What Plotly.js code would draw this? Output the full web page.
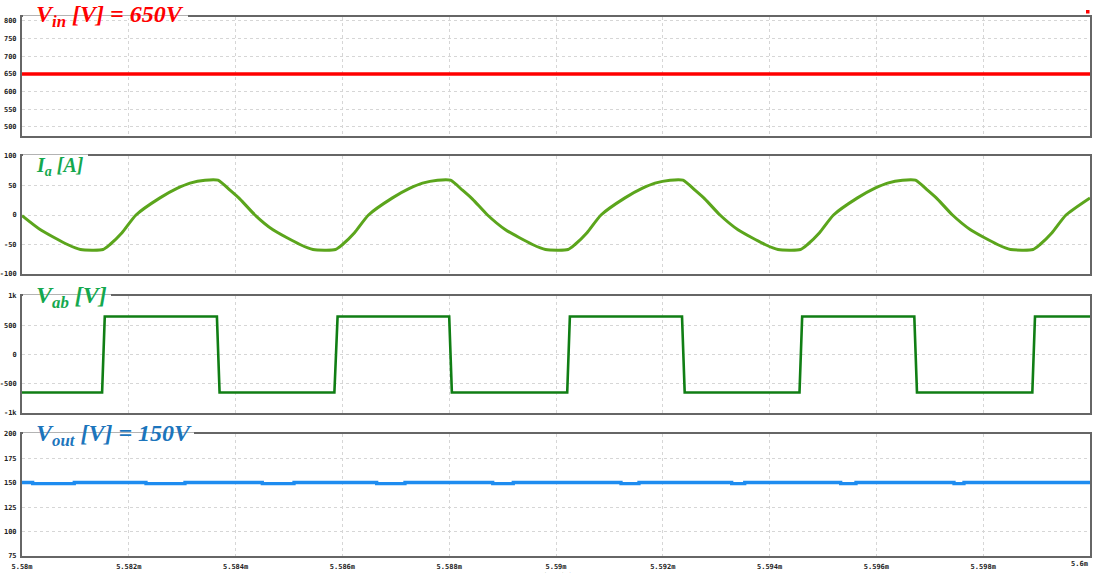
<!DOCTYPE html>
<html>
<head>
<meta charset="utf-8">
<script src="https://cdn.plot.ly/plotly-3.0.1.min.js"></script>
<style>html,body{margin:0;padding:0;background:#fff;}#chart{width:1093px;height:573px;}</style>
</head>
<body>
<div id="chart"></div>
<script>
// Time in microseconds (absolute)
const xTickVals = [5580, 5582, 5584, 5586, 5588, 5590, 5592, 5594, 5596, 5598, 5600];
const xTickText = ['5.58m', '5.582m', '5.584m', '5.586m', '5.588m', '5.59m', '5.592m', '5.594m', '5.596m', '5.598m', ''];
const lastTickText = '5.6m';

// Vin [V]
const vinT = [5580, 5600];
const vinV = [650, 650];

// Ia [A]
const iaT = [5580.000, 5580.346, 5580.852, 5581.095,
  5581.517, 5581.648, 5581.873, 5582.135, 5582.584, 5582.903, 5583.146, 5583.427, 5583.670, 5583.895, 5584.082, 5584.363, 5584.700, 5585.206, 5585.449,
  5585.871, 5586.002, 5586.227, 5586.489, 5586.938, 5587.257, 5587.500, 5587.781, 5588.024, 5588.249, 5588.436, 5588.717, 5589.054, 5589.560, 5589.803,
  5590.225, 5590.356, 5590.581, 5590.843, 5591.292, 5591.611, 5591.854, 5592.135, 5592.378, 5592.603, 5592.790, 5593.071, 5593.408, 5593.914, 5594.157,
  5594.579, 5594.710, 5594.935, 5595.197, 5595.646, 5595.965, 5596.208, 5596.489, 5596.732, 5596.957, 5597.144, 5597.425, 5597.762, 5598.268, 5598.511,
  5598.933, 5599.064, 5599.289, 5599.551, 5600.000];
const iaA = [-1, -25, -50, -58.5,
  -58.5, -50, -30, 0, 29, 45, 54, 59, 59, 42, 27, 0, -25, -50, -58.5,
  -58.5, -50, -30, 0, 29, 45, 54, 59, 59, 42, 27, 0, -25, -50, -58.5,
  -58.5, -50, -30, 0, 29, 45, 54, 59, 59, 42, 27, 0, -25, -50, -58.5,
  -58.5, -50, -30, 0, 29, 45, 54, 59, 59, 42, 27, 0, -25, -50, -58.5,
  -58.5, -50, -30, 0, 29];

// Vab [V]
const vabT = [5580, 5581.50, 5581.55, 5583.65, 5583.70, 5585.85, 5585.91, 5588.00, 5588.05, 5590.21, 5590.26,
  5592.36, 5592.41, 5594.56, 5594.61, 5596.71, 5596.76, 5598.92, 5598.97, 5600];
const vabV = [-650, -650, 650, 650, -650, -650, 650, 650, -650, -650, 650,
  650, -650, -650, 650, 650, -650, -650, 650, 650];

// Vout [V] (step levels)
const voutT = [5580.000, 5580.200, 5580.979, 5582.322, 5583.052, 5584.500, 5585.094, 5586.642, 5587.172, 5588.815,
  5589.200, 5591.217, 5591.554, 5593.290, 5593.534, 5595.331, 5595.618, 5597.453, 5597.640, 5600.000];
const voutV = [150.3, 149.2, 150.3, 149.2, 150.3, 149.2, 150.3, 149.2, 150.3, 149.2,
  150.3, 149.2, 150.3, 149.2, 150.3, 149.2, 150.3, 149.2, 150.3, 150.3];

const yTicks1 = [500, 550, 600, 650, 700, 750, 800];
const yTicks2 = [-100, -50, 0, 50, 100];
const yTicks3 = [-1000, -500, 0, 500, 1000];
const yText3 = ['-1k', '-500', '0', '500', '1k'];
const yTicks4 = [75, 100, 125, 150, 175, 200];

const labels = [
  '<b><i>V<sub>in</sub> [V] = 650V</i></b>',
  '<b><i>I<sub>a</sub> [A]</i></b>',
  '<b><i>V<sub>ab</sub> [V]</i></b>',
  '<b><i>V<sub>out</sub> [V] = 150V</i></b>'
];

const W = 1093, H = 573, L = 22, R = 3, T = 17, B = 17;
const PW = W - L - R, PH = H - T - B;
const px = x => (x - L) / PW;
const py = y => (H - B - y) / PH;

const tickFont = {family: 'DejaVu Sans Mono', size: 7, color: '#222', weight: 'bold'};
const gridStyle = {showgrid: true, gridcolor: '#d6d6d6', griddash: 'dot', gridwidth: 1,
  showline: true, linecolor: '#666', linewidth: 2, mirror: true, zeroline: false, ticks: '',
  tickfont: tickFont};

function xa(anchor, showLabels) {
  return Object.assign({}, gridStyle, {
    anchor: anchor, range: [5580, 5600], tickmode: 'array', tickvals: xTickVals, ticktext: xTickText,
    showticklabels: showLabels, ticklabelstandoff: 3
  });
}
function ya(anchor, domain, range, vals, text) {
  return Object.assign({}, gridStyle, {
    anchor: anchor, domain: domain, range: range, tickmode: 'array', tickvals: vals,
    ticktext: text || vals.map(String), ticklabelstandoff: 2
  });
}

const traces = [
  {x: vinT, y: vinV, xaxis: 'x', yaxis: 'y', mode: 'lines', line: {color: '#ff0000', width: 3.5}},
  {x: iaT, y: iaA, xaxis: 'x2', yaxis: 'y2', mode: 'lines', line: {color: '#5ba51c', width: 3, shape: 'spline', smoothing: 0.6}},
  {x: vabT, y: vabV, xaxis: 'x3', yaxis: 'y3', mode: 'lines', line: {color: '#107e14', width: 2.6}},
  {x: voutT, y: voutV, xaxis: 'x4', yaxis: 'y4', mode: 'lines', line: {color: '#1e8cf0', width: 3.3, shape: 'hv'}}
];

const boxes = [[17, 188], [156, 88], [296, 111], [434, 194]];
const labelY = [16, 166, 297, 435];
const labelColors = ['#ff0000', '#14a84e', '#14a84e', '#1c75bc'];
const labelSizes = [24, 20, 24, 24];

const shapes = boxes.map((b, i) => ({
  type: 'rect', xref: 'paper', yref: 'paper', layer: 'above',
  x0: px(L + 1), x1: px(b[1]), y0: py(b[0] + 1.5), y1: py(b[0] - 1.5),
  fillcolor: '#ffffff', line: {width: 0}
}));
shapes.push({type: 'rect', xref: 'paper', yref: 'paper', layer: 'above',
  x0: px(1086), x1: px(1089.5), y0: py(13.5), y1: py(10), fillcolor: '#ff0000', line: {width: 0}});

const annotations = labels.map((t, i) => ({
  text: t, xref: 'paper', yref: 'paper', x: px(34), y: py(labelY[i]),
  xanchor: 'left', yanchor: 'middle', showarrow: false,
  font: {family: 'Liberation Serif', size: labelSizes[i], color: labelColors[i]}
}));
annotations.push({text: lastTickText, xref: 'paper', yref: 'paper', x: px(1090), y: py(564),
  xanchor: 'right', yanchor: 'middle', showarrow: false, font: tickFont});
annotations.push({text: 'Time (s)', xref: 'paper', yref: 'paper', x: px(556), y: py(576),
  xanchor: 'center', yanchor: 'middle', showarrow: false,
  font: {family: 'DejaVu Sans Mono', size: 7, color: '#333'}});

const layout = {
  width: W, height: H,
  margin: {l: L, r: R, t: T, b: B, pad: 0},
  paper_bgcolor: '#ffffff', plot_bgcolor: '#ffffff',
  showlegend: false,
  xaxis: xa('y', false),
  xaxis2: Object.assign(xa('y2', false), {matches: 'x'}),
  xaxis3: Object.assign(xa('y3', false), {matches: 'x'}),
  xaxis4: Object.assign(xa('y4', true), {matches: 'x'}),
  yaxis: ya('x', [py(136), 1], [474.5, 811.3], yTicks1),
  yaxis2: ya('x2', [py(274), py(156)], [-100, 100], yTicks2),
  yaxis3: ya('x3', [py(413), py(296)], [-1000, 1000], yTicks3, yText3),
  yaxis4: ya('x4', [0, py(434)], [75, 200], yTicks4),
  shapes: shapes,
  annotations: annotations
};

Plotly.newPlot('chart', traces, layout, {displayModeBar: false, staticPlot: true});
</script>
</body>
</html>
